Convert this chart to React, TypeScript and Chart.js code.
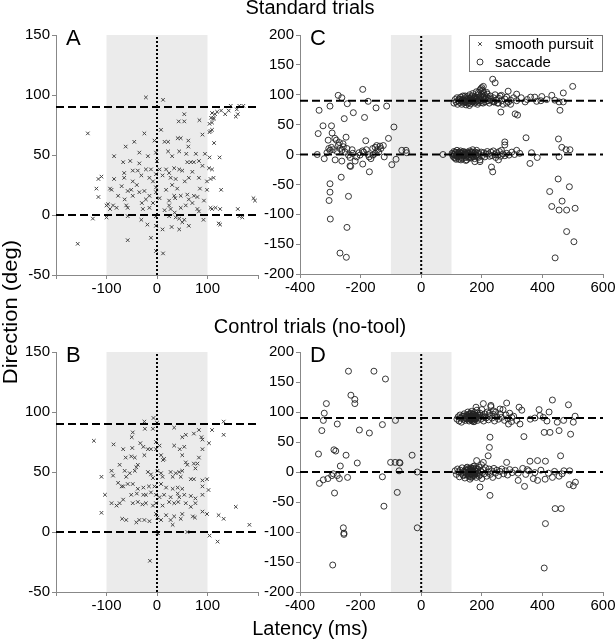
import React, { useEffect, useRef } from 'react';
import { Chart, registerables } from 'chart.js';
import { drawPoint } from 'chart.js/helpers';

Chart.register(...registerables);

type Pt = [number, number];

const FONT = '"Liberation Sans", Arial, Helvetica, sans-serif';

// ---- data: [latency (ms), direction (deg)] ----
const pursuitStandard: Pt[] = [
  [-22, 98], [12, 96],
  [54, 84], [43, 78], [54, 78], [84, 79], [115, 84], [107, 81], [109, 85], [127, 87], [135, 84], [146, 91], [158, 88], [171, 91], [163, 91], [160, 84], [156, 82], [142, 87], [119, 86], [112, 81],
  [104, 76], [109, 77], [112, 80], [106, 70], [109, 71], [104, 69], [90, 67], [-137, 68], [-25, 68], [8, 71], [113, 60],
  [-62, 57], [-45, 61], [-5, 62], [15, 61], [22, 61], [41, 64], [47, 64], [62, 62], [62, 57], [-85, 49], [-2, 52], [22, 53], [30, 49], [44, 53], [58, 51], [77, 51], [95, 51], [104, 48], [124, 48], [-18, 49], [-35, 52],
  [-67, 44], [-53, 45], [-35, 43], [-22, 38], [-12, 38], [-38, 37], [-48, 37], [-65, 35], [-65, 31], [-85, 30], [-116, 30], [-110, 32], [18, 38], [24, 35], [34, 39], [44, 38], [50, 37], [60, 44], [67, 44], [73, 44], [83, 45], [90, 41], [103, 39], [109, 38], [106, 30], [112, 31], [99, 28], [83, 31], [63, 31], [37, 30], [27, 31], [11, 33], [-2, 34], [-15, 31], [-31, 33], [-48, 28],
  [-120, 22], [-116, 15], [-93, 22], [-90, 21], [-58, 20], [-51, 21], [-48, 16], [-35, 19], [-25, 20], [-15, 16], [-2, 23], [-2, 19], [5, 14], [18, 21], [34, 16], [36, 14], [47, 16], [60, 17], [63, 13], [73, 16], [80, 15], [99, 21], [127, 21], [-77, 16], [-64, 13], [-22, 13], [-8, 10], [24, 12],
  [-100, 8], [-93, 5], [-87, 8], [-80, 6], [-97, 9], [-61, 8], [-58, 6], [-28, 5], [-15, 6], [24, 8], [27, 5], [47, 6], [57, 8], [70, 10], [80, 5], [83, 3], [106, 6], [109, 5], [116, 6], [125, 5], [160, 5], [191, 14], [194, 12],
  [-127, -3], [-100, -2], [-58, -1], [-31, -4], [-2, -1], [24, -1], [37, -2], [44, -3], [54, -4], [92, -4], [163, -1], [169, -2], [122, -7], [125, -8], [-19, -8], [-2, -9], [11, -12], [29, -10], [44, -12], [63, -9], [50, -6],
  [-157, -24], [-58, -21], [-12, -19], [-2, -30], [12, -32],
  [0, 45], [5, 38], [-8, 28], [30, 25], [40, 22], [55, 28], [70, 36], [-40, 25], [-70, 24], [85, 22], [93, 12], [-30, 10], [15, 4], [35, 2],
];

const pursuitControl: Pt[] = [
  [-7, 95], [-25, 92], [0, 91],
  [-24, 86], [-8, 86], [-48, 83], [-50, 79], [34, 87], [83, 85], [73, 82], [57, 81], [50, 79], [88, 79], [90, 77], [109, 85], [132, 92], [132, 81], [-125, 76], [103, 74],
  [-86, 73], [-67, 69], [-49, 70], [-33, 74], [-27, 71], [-18, 69], [-12, 69], [-2, 69], [-2, 75], [5, 72], [34, 72], [45, 69], [54, 71],
  [-62, 62], [-51, 63], [-44, 62], [-25, 64], [8, 64], [14, 61], [12, 60], [50, 64], [57, 58], [60, 56], [73, 57], [80, 57], [83, 62], [76, 53], [90, 69], [-74, 56], [-90, 51], [-87, 47], [-110, 46], [-64, 51], [-61, 46], [-54, 49], [-44, 51], [-41, 54], [-38, 56],
  [-18, 50], [-12, 48], [-8, 45], [1, 51], [8, 49], [11, 46], [27, 50], [31, 46], [37, 49], [44, 50], [47, 46], [50, 51], [67, 44], [73, 44], [90, 43], [99, 44],
  [-77, 41], [-70, 38], [-67, 38], [-58, 40], [-48, 40], [-38, 36], [-27, 37], [-16, 38], [-5, 38], [8, 40], [18, 37], [31, 36], [41, 37], [50, 36], [90, 38], [-103, 31],
  [-51, 31], [-40, 32], [-27, 31], [-22, 31], [-12, 33], [-2, 31], [5, 29], [14, 31], [27, 29], [41, 32], [44, 29], [54, 31], [67, 30], [76, 28], [102, 35], [90, 31],
  [-90, 24], [-80, 22], [-74, 24], [-67, 27], [-48, 24], [-38, 25], [-29, 23], [-22, 24], [-8, 22], [-2, 24], [11, 22], [24, 25], [34, 24], [42, 25], [57, 24], [67, 21], [76, 24],
  [-110, 16], [-69, 11], [-61, 10], [-41, 8], [-35, 10], [-25, 10], [-15, 9], [-2, 15], [1, 12], [8, 10], [18, 14], [27, 10], [34, 13], [47, 11], [50, 15], [71, 13], [75, 12], [90, 17], [99, 15], [122, 14], [132, 11], [156, 21], [183, 6],
  [31, 6], [1, -1], [60, 0], [104, -3], [120, -8], [-14, -24], [2, -1],
];

const saccadeStandard: Pt[] = [
  // early saccades
  [-274, 99], [-262, 95], [-244, 85], [-193, 109], [-175, 89], [-301, 81], [-337, 74], [-224, 70], [-149, 78], [-114, 81], [-254, 60], [-187, 62], [-324, 48], [-296, 48], [-90, 46], [-340, 35], [-294, 36], [-307, 24], [-285, 27], [-280, 24], [-248, 29], [-183, 23], [-108, 27], [-147, 15], [-136, 14], [-125, 15], [-152, 12],
  [-343, 0], [-320, -7], [-311, 3], [-301, 7], [-296, 12], [-290, 8], [-273, 16], [-268, 10], [-262, 7], [-257, 13], [-251, 4], [-284, -9], [-262, -11], [-240, -1], [-235, -5], [-226, 2], [-218, -11], [-213, -4], [-202, -1], [-193, -16], [-235, -19], [-233, -20], [-194, 6], [-190, 4], [-181, 8], [-172, -4], [-166, -7], [-159, -1], [-152, 2], [-144, 8], [-133, 10], [-122, -4], [-97, -17], [-83, -8], [-64, 7], [-50, 7], [-48, 3],
  [-305, 10], [-278, 5], [-270, 20], [-258, 18], [-245, 10], [-228, 8], [-205, 3], [-160, 10], [-140, 4], [-175, 0],
  [-171, -29], [-264, -38], [-301, -49], [-301, -63], [-304, -77], [-240, -70], [-300, -108], [-245, -122], [-268, -165], [-247, -172], [72, 0],
  // late saccades near 90 deg
  [108, 86], [112, 92], [115, 88], [118, 95], [120, 84], [122, 90], [125, 93], [127, 87], [130, 96], [132, 89], [134, 84], [136, 92], [138, 98], [140, 86], [142, 91], [144, 95], [146, 88], [148, 83], [150, 93], [152, 97], [154, 89], [156, 86], [158, 94], [160, 100], [161, 90], [163, 85], [165, 96], [167, 92], [169, 88], [170, 102], [172, 94], [174, 90], [176, 86], [178, 97], [180, 92], [182, 105], [184, 89], [186, 95], [188, 100], [190, 87], [192, 93], [194, 108], [196, 98], [198, 90], [200, 112], [202, 95], [204, 86], [206, 104], [208, 92], [210, 99], [212, 88], [215, 96], [218, 101], [220, 90], [222, 94], [225, 86], [228, 98], [230, 92], [234, 89], [238, 95], [240, 88], [244, 100], [248, 91], [252, 86], [256, 94], [260, 98], [265, 90], [270, 84], [276, 93], [282, 96], [288, 88], [295, 91], [305, 95], [315, 90],
  [128, 92], [135, 90], [143, 88], [149, 91], [153, 86], [157, 90], [162, 93], [166, 89], [171, 91], [175, 95], [179, 88], [183, 93], [187, 90], [191, 96], [195, 92], [199, 87], [203, 100], [207, 96], [211, 93], [145, 98], [168, 98], [189, 104], [197, 110], [186, 84], [159, 82],
  [236, 126], [244, 120], [205, 114], [203, 107], [216, 104], [287, 106], [315, 101], [265, 99], [361, 96], [375, 96], [398, 97], [431, 99], [469, 103], [500, 114], [381, 89], [414, 92], [441, 91], [455, 88], [469, 88], [343, 88], [263, 71], [310, 68], [318, 66], [458, 74], [282, 86], [295, 84], [255, 86], [240, 88], [330, 95], [350, 92], [395, 90],
  // late saccades near 0 deg
  [102, 2], [105, -3], [108, 5], [110, 0], [112, -6], [114, 3], [116, -2], [118, 7], [120, -4], [122, 1], [124, -8], [126, 4], [128, -1], [130, 6], [132, -3], [134, 2], [136, -7], [138, 0], [140, 5], [142, -2], [144, 3], [146, -5], [148, 1], [150, -9], [152, 4], [154, -1], [156, 2], [158, -4], [160, 6], [162, 0], [164, -6], [166, 3], [168, -2], [170, 8], [172, -3], [174, 1], [176, -7], [178, 4], [180, -1], [183, 7], [186, -3], [190, 2], [194, -9], [198, 4], [202, -2], [206, 3], [210, -4], [214, 1], [218, 5], [222, 1], [226, -3], [230, 4], [234, -2], [238, 6], [242, 0], [246, -5], [249, 3], [253, -1], [258, 5], [262, -3], [265, 7], [270, 1], [276, -2], [282, 2], [290, -1], [299, 4], [308, 0], [315, 7], [325, 2],
  [104, 0], [109, -5], [113, 4], [117, -1], [121, 3], [125, -3], [129, 2], [133, -5], [137, 4], [141, -1], [145, 1], [149, -3], [153, 2], [157, -6], [161, 3], [165, -1], [169, 4], [173, -4], [177, 2], [181, -2], [185, 3], [189, -5], [115, -8], [131, -9], [147, -10],
  [276, 21], [276, 16], [346, 28], [453, 26], [464, 12], [478, 8], [491, 8], [455, -4], [364, 3], [383, -5], [359, -15], [236, -29], [232, -21], [255, -9], [194, -12], [177, -12],
  [452, -41], [424, -62], [489, -54], [465, -78], [431, -87], [455, -93], [480, -93], [508, -90], [480, -129], [504, -146], [442, -173],
];

const saccadeControl: Pt[] = [
  // early saccades
  [-240, 168], [-156, 168], [-118, 155], [-232, 128], [-219, 121], [-219, 114], [-313, 114], [-320, 98], [-323, 86], [-277, 80], [-328, 69], [-204, 70], [-171, 65], [-128, 79], [-85, 86], [-288, 37], [-282, 35], [-339, 30], [-248, 28], [-211, 15], [-267, 10], [-101, 16], [-86, 16], [-72, 16], [-70, 15], [-30, 28], [-73, 2], [-13, 0],
  [-290, -3], [-277, -6], [-295, -6], [-308, -11], [-323, -13], [-336, -19], [-270, -11], [-243, -9], [-128, -8], [-286, -35], [-79, -34], [-123, -57], [-257, -93], [-255, -102], [-255, -104], [-13, -93], [-292, -155],
  // late saccades near 90 deg
  [118, 88], [122, 92], [125, 85], [128, 95], [130, 90], [133, 83], [136, 93], [139, 88], [142, 97], [145, 86], [147, 91], [150, 95], [152, 88], [154, 100], [156, 92], [158, 85], [160, 97], [162, 90], [163, 94], [165, 87], [166, 101], [168, 92], [170, 89], [171, 96], [173, 84], [174, 93], [176, 99], [178, 88], [180, 94], [182, 90], [184, 103], [186, 86], [188, 95], [191, 91], [194, 98], [197, 88], [200, 104], [203, 92], [206, 85], [210, 97], [214, 90], [218, 100], [222, 87], [226, 94], [230, 109], [234, 90], [238, 96], [242, 85], [246, 100], [250, 92], [255, 88], [260, 97], [265, 91], [270, 104], [275, 86], [280, 95], [286, 89], [292, 98], [298, 84], [305, 93],
  [148, 89], [152, 93], [155, 90], [158, 96], [161, 88], [163, 91], [165, 94], [167, 89], [169, 93], [171, 90], [172, 87], [174, 96], [176, 91], [178, 94], [180, 89], [183, 92], [160, 92], [164, 98], [168, 85], [175, 84], [186, 98], [140, 93], [196, 94], [210, 92], [225, 98],
  [205, 114], [230, 111], [282, 115], [323, 108], [332, 103], [260, 105], [238, 102], [181, 108], [389, 104], [422, 100], [433, 120], [486, 112], [508, 93], [502, 83], [449, 83], [406, 66], [425, 66], [455, 69], [493, 63], [339, 59], [326, 80], [315, 86], [375, 90], [392, 94], [403, 91], [299, 91], [288, 80], [360, 88], [415, 85], [470, 86],
  [227, 58], [225, 41], [221, 27], [359, 18], [384, 19], [410, 18], [460, 27], [350, 4], [282, 16], [205, 16], [183, 19], [199, 12],
  // late saccades near 0 deg
  [112, 2], [116, -4], [120, 5], [123, 0], [126, -8], [129, 3], [132, -2], [135, 7], [138, -5], [141, 1], [144, -10], [147, 4], [150, -2], [152, 8], [155, -6], [157, 0], [159, 3], [161, -12], [163, 5], [165, -3], [167, 1], [169, -7], [171, 6], [173, -1], [175, 10], [177, -4], [179, 2], [182, -9], [185, 5], [188, -2], [191, 8], [194, -5], [197, 1], [200, -11], [204, 4], [208, -3], [212, 7], [216, -7], [220, 0], [224, 5], [228, -4], [232, 2], [236, -9], [240, 6], [245, -2], [250, 3], [255, -6], [260, 1], [266, 5], [272, -3], [278, 2], [285, -5], [292, 4], [300, -1], [310, 3], [320, -2], [335, 6], [345, -4], [355, 2], [375, -1], [395, 3], [420, -2], [440, 1], [465, -3], [490, 2],
  [145, 0], [148, -4], [151, 3], [154, -2], [156, 5], [158, -5], [160, 1], [162, -3], [164, 7], [166, -1], [168, 3], [170, -4], [172, 0], [174, -6], [176, 4], [178, -2], [180, 6], [183, -3], [186, 1], [166, -9], [160, -8], [172, 9], [150, 7], [190, -7], [140, -6],
  [227, -39], [194, -25], [341, -24], [320, -14], [370, -11], [384, -14], [409, -12], [433, -9], [455, -7], [471, 2], [489, -21], [502, -23], [509, -17], [442, -61], [462, -61], [410, -86], [406, -160],
];

// ---- axes / reference values ----
const shortXTicks = [-200, -100, 0, 100, 200];
const shortXLabels = ['', '-100', '0', '100', ''];
const shortYTicks = [-50, 0, 50, 100, 150];
const longXTicks = [-400, -200, 0, 200, 400, 600];
const longYTicks = [-200, -150, -100, -50, 0, 50, 100, 150, 200];
const targetDirections = [90, 0];
const responseWindow = [-100, 100];
const onsetLatency = 0;
const legendLabels = ['smooth pursuit', 'saccade'];
const rowTitles = ['Standard trials', 'Control trials (no-tool)'];
const xTitle = 'Latency (ms)';
const yTitle = 'Direction (deg)';

interface PanelProps {
  left: number; top: number; width: number; height: number;
  yAxisW: number; padTop: number; padRight: number; xAxisH: number;
  xTicks: number[]; xLabels?: string[]; yTicks: number[];
  points: Pt[]; kind: 'pursuit' | 'saccade'; letter: string; legend?: boolean;
}

const pursuitStyle = { pointStyle: 'crossRot', radius: 2.5, borderWidth: 1, borderColor: '#444' };
const saccadeStyle = { pointStyle: 'circle', radius: 3, borderWidth: 0.9, borderColor: '#222' };

function Panel(p: PanelProps) {
  const ref = useRef<HTMLCanvasElement>(null);
  useEffect(() => {
    if (!ref.current) return;
    const xMin = p.xTicks[0], xMax = p.xTicks[p.xTicks.length - 1];
    const yMin = p.yTicks[0], yMax = p.yTicks[p.yTicks.length - 1];
    const st = p.kind === 'pursuit' ? pursuitStyle : saccadeStyle;
    const pointDs: any = {
      label: p.kind === 'pursuit' ? legendLabels[0] : legendLabels[1],
      data: p.points.map(([x, y]) => ({ x, y })),
      pointStyle: st.pointStyle,
      pointRadius: st.radius,
      pointBorderWidth: st.borderWidth,
      borderColor: st.borderColor,
      pointBorderColor: st.borderColor,
      backgroundColor: 'rgba(0,0,0,0)',
      pointBackgroundColor: 'rgba(0,0,0,0)',
      showLine: false,
      order: 3,
    };
    const lineDs: any[] = targetDirections.map((d) => ({
      label: 'target ' + d,
      data: [{ x: xMin, y: d }, { x: xMax, y: d }],
      showLine: true,
      borderColor: '#000',
      borderWidth: 2,
      borderDash: [8, 4],
      pointRadius: 0,
      order: 1,
    }));
    const onsetDs: any = {
      label: 'onset',
      data: [{ x: onsetLatency, y: yMin }, { x: onsetLatency, y: yMax }],
      showLine: true,
      borderColor: '#000',
      borderWidth: 2,
      borderDash: [2, 2],
      pointRadius: 0,
      order: 2,
    };

    const shadePlugin = {
      id: 'shade',
      beforeDatasetsDraw(chart: any) {
        const { ctx, chartArea, scales } = chart;
        const x0 = scales.x.getPixelForValue(responseWindow[0]);
        const x1 = scales.x.getPixelForValue(responseWindow[1]);
        ctx.save();
        ctx.fillStyle = '#ebebeb';
        ctx.fillRect(x0, chartArea.top, x1 - x0, chartArea.bottom - chartArea.top);
        ctx.restore();
      },
    };

    const decorPlugin = {
      id: 'decor',
      afterDraw(chart: any) {
        const { ctx, chartArea } = chart;
        ctx.save();
        ctx.fillStyle = '#000';
        ctx.font = `22px ${FONT}`;
        ctx.textBaseline = 'alphabetic';
        ctx.textAlign = 'left';
        ctx.fillText(p.letter, chartArea.left + 10, chartArea.top + 10);
        if (p.legend) {
          const w = 134, h = 37;
          const bx = chartArea.right - w, by = chartArea.top;
          ctx.fillStyle = '#fff';
          ctx.fillRect(bx, by, w, h);
          ctx.strokeStyle = '#777';
          ctx.lineWidth = 1;
          ctx.strokeRect(bx + 0.5, by + 0.5, w - 1, h - 1);
          const styles = [pursuitStyle, saccadeStyle];
          legendLabels.forEach((lab, i) => {
            const cy = by + 9 + i * 18;
            const s = styles[i];
            ctx.strokeStyle = s.borderColor;
            ctx.fillStyle = 'rgba(0,0,0,0)';
            ctx.lineWidth = s.borderWidth;
            drawPoint(ctx, { pointStyle: s.pointStyle as any, radius: s.radius, borderWidth: s.borderWidth, rotation: 0 }, bx + 11, cy);
            ctx.fillStyle = '#000';
            ctx.font = `15px ${FONT}`;
            ctx.textBaseline = 'middle';
            ctx.fillText(lab, bx + 26, cy + 1);
          });
        }
        ctx.restore();
      },
    };

    const tickFont = { family: FONT, size: 15 };
    const chart = new Chart(ref.current, {
      type: 'scatter',
      data: { datasets: [...lineDs, onsetDs, pointDs] },
      plugins: [shadePlugin, decorPlugin],
      options: {
        responsive: false,
        animation: false,
        events: [],
        layout: { padding: { top: p.padTop, right: p.padRight, left: 0, bottom: 0 } },
        plugins: { legend: { display: false }, tooltip: { enabled: false } },
        scales: {
          x: {
            type: 'linear',
            min: xMin,
            max: xMax,
            afterBuildTicks: (s: any) => { s.ticks = p.xTicks.map((v) => ({ value: v })); },
            afterFit: (s: any) => { s.height = p.xAxisH; },
            grid: { display: true, drawOnChartArea: false, drawTicks: true, tickLength: 4, color: '#888', lineWidth: 1 },
            border: { display: true, color: '#888', width: 1 },
            ticks: {
              color: '#000',
              font: tickFont,
              padding: 1,
              maxRotation: 0,
              autoSkip: false,
              callback: (v: any, i: number) => (p.xLabels ? p.xLabels[i] : String(v)),
            },
          },
          y: {
            type: 'linear',
            min: yMin,
            max: yMax,
            afterBuildTicks: (s: any) => { s.ticks = p.yTicks.map((v) => ({ value: v })); },
            afterFit: (s: any) => { s.width = p.yAxisW; },
            grid: { display: true, drawOnChartArea: false, drawTicks: true, tickLength: 4, color: '#888', lineWidth: 1 },
            border: { display: true, color: '#888', width: 1 },
            ticks: { color: '#000', font: tickFont, padding: 2, autoSkip: false, callback: (v: any) => String(v) },
          },
        },
      } as any,
    });
    return () => chart.destroy();
  }, []);
  return (
    <canvas
      ref={ref}
      width={p.width}
      height={p.height}
      style={{ position: 'absolute', left: p.left, top: p.top, width: p.width, height: p.height }}
    />
  );
}

const textBase: React.CSSProperties = {
  position: 'absolute',
  fontFamily: FONT,
  fontSize: 20,
  lineHeight: '20px',
  color: '#000',
  whiteSpace: 'nowrap',
};

export default function App() {
  useEffect(() => {
    document.body.style.margin = '0';
  }, []);
  return (
    <div style={{ position: 'absolute', left: 0, top: 0, width: 615, height: 639, overflow: 'hidden', background: '#fff' }}>
      <Panel left={0} top={0} width={290} height={310} yAxisW={56} padTop={35} padRight={32} xAxisH={35}
        xTicks={shortXTicks} xLabels={shortXLabels} yTicks={shortYTicks} points={pursuitStandard} kind="pursuit" letter="A" />
      <Panel left={250} top={0} width={375} height={310} yAxisW={50} padTop={35} padRight={22} xAxisH={36}
        xTicks={longXTicks} yTicks={longYTicks} points={saccadeStandard} kind="saccade" letter="C" legend />
      <Panel left={0} top={310} width={290} height={329} yAxisW={56} padTop={42} padRight={32} xAxisH={47}
        xTicks={shortXTicks} xLabels={shortXLabels} yTicks={shortYTicks} points={pursuitControl} kind="pursuit" letter="B" />
      <Panel left={250} top={310} width={375} height={329} yAxisW={50} padTop={42} padRight={22} xAxisH={47}
        xTicks={longXTicks} yTicks={longYTicks} points={saccadeControl} kind="saccade" letter="D" />
      <div style={{ ...textBase, left: 0, width: 620, textAlign: 'center', top: 14 - 17 }}>{rowTitles[0]}</div>
      <div style={{ ...textBase, left: 0, width: 620, textAlign: 'center', top: 333 - 17 }}>{rowTitles[1]}</div>
      <div style={{ ...textBase, left: 0, width: 620, textAlign: 'center', top: 635 - 17 }}>{xTitle}</div>
      <div style={{ ...textBase, left: 10 - 100, top: 312 - 10, width: 200, height: 20, textAlign: 'center', transform: 'rotate(-90deg) scaleX(1.1)' }}>{yTitle}</div>
    </div>
  );
}
